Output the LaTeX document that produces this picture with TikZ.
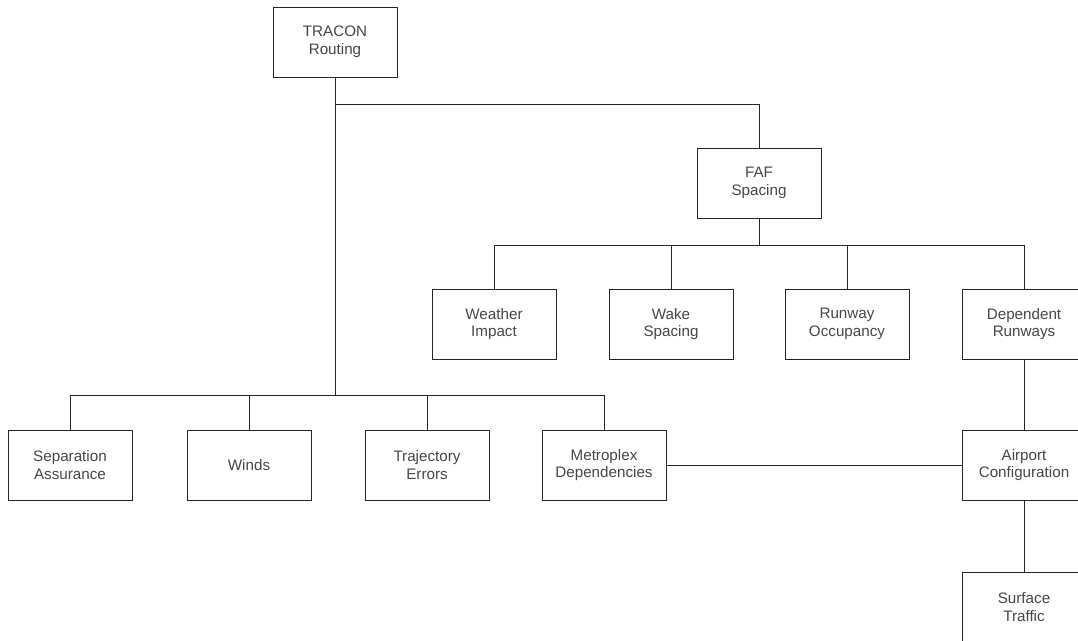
\documentclass[tikz,border=0pt]{standalone}
\usepackage{fontspec}
\setmainfont{Liberation Sans}
\begin{document}
\begin{tikzpicture}[x=1pt,y=-1pt,
  box/.style={draw=black!85, line width=0.9pt, fill=white, minimum width=124pt, minimum height=70pt,
    align=center, inner sep=0pt, text=black!72, font=\fontsize{15.2}{17.6}\selectfont},
  conn/.style={draw=black!85, line width=0.9pt}]
\useasboundingbox (0,0) rectangle (1078,640);
\clip (0,0) rectangle (1078,640);
\fill[white] (0,0) rectangle (1078,640);
\node[box] (tracon) at (335,42) {TRACON\\Routing};
\node[box] (faf) at (759,183) {FAF\\Spacing};
\node[box] (wea) at (494,324) {Weather\\Impact};
\node[box] (wake) at (671,324) {Wake\\Spacing};
\node[box] (run) at (847,324) {Runway\\Occupancy};
\node[box] (dep) at (1024,324) {Dependent\\Runways};
\node[box] (sep) at (70,465) {Separation\\Assurance};
\node[box] (winds) at (249,465) {Winds};
\node[box] (traj) at (427,465) {Trajectory\\Errors};
\node[box] (metro) at (604,465) {Metroplex\\Dependencies};
\node[box] (air) at (1024,465) {Airport\\Configuration};
\node[box] (surf) at (1024,607) {Surface\\Traffic};
\coordinate (b1) at (335,104);
\coordinate (b2) at (335,395);
\coordinate (f1) at (759,245);
\draw[conn] (tracon.south) -- (b2);
\draw[conn] (b1) -| (faf.north);
\draw[conn] (b2) -| (sep.north);
\draw[conn] (b2) -| (winds.north);
\draw[conn] (b2) -| (traj.north);
\draw[conn] (b2) -| (metro.north);
\draw[conn] (faf.south) -- (f1);
\draw[conn] (f1) -| (wea.north);
\draw[conn] (f1) -| (wake.north);
\draw[conn] (f1) -| (run.north);
\draw[conn] (f1) -| (dep.north);
\draw[conn] (dep.south) -- (air.north);
\draw[conn] (air.south) -- (surf.north);
\draw[conn] (metro.east) -- (air.west);
\end{tikzpicture}
\end{document}
